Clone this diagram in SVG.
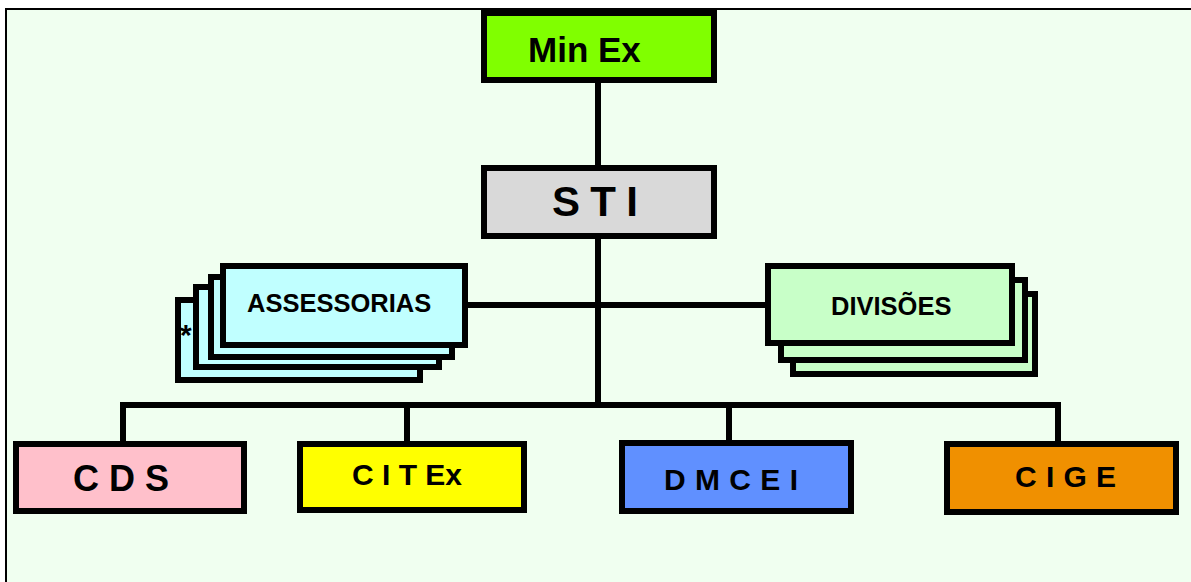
<svg xmlns="http://www.w3.org/2000/svg" width="1191" height="582" viewBox="0 0 1191 582">
<style>
.box{stroke:#000;stroke-width:6}
.t{font-family:"Liberation Sans",Arial,sans-serif;font-weight:bold;fill:#000}
.c{stroke:#000;stroke-width:6;fill:none}
</style>
<rect x="0" y="0" width="1191" height="582" fill="#ffffff"/>
<rect x="6" y="9" width="1200" height="600" fill="#F0FFF0" stroke="#000" stroke-width="2"/>
<g id="connectors">
<line class="c" x1="598" y1="83" x2="598" y2="165"/>
<line class="c" x1="598" y1="239" x2="598" y2="405"/>
<line class="c" x1="468" y1="305" x2="765" y2="305"/>
<polyline class="c" points="123,441 123,405 1058,405 1058,441"/>
<line class="c" x1="407" y1="405" x2="407" y2="441"/>
<line class="c" x1="729" y1="405" x2="729" y2="440"/>
</g>
<g id="minex">
<rect class="box" x="484" y="13" width="230" height="67" fill="#80FF00"/>
<text class="t" x="528" y="62" font-size="35">Min Ex</text>
</g>
<g id="sti">
<rect class="box" x="484" y="168" width="230" height="68" fill="#D9D9D9"/>
<text class="t" x="552" y="216" font-size="42" textLength="86">S T I</text>
</g>
<g id="assessorias">
<rect class="box" x="178" y="300" width="242" height="80" fill="#C0FFFF"/>
<rect class="box" x="196" y="287" width="243" height="80" fill="#C0FFFF"/>
<rect class="box" x="211" y="277" width="241" height="80" fill="#C0FFFF"/>
<rect class="box" x="223" y="266" width="242" height="79" fill="#C0FFFF"/>
<text class="t" x="180" y="345" font-size="30">*</text>
<text class="t" x="247" y="312" font-size="25.5">ASSESSORIAS</text>
</g>
<g id="divisoes">
<rect class="box" x="793" y="294" width="242" height="80" fill="#C8FFC8"/>
<rect class="box" x="781" y="280" width="244" height="80" fill="#C8FFC8"/>
<rect class="box" x="768" y="266" width="244" height="77" fill="#C8FFC8"/>
<text class="t" x="831" y="315" font-size="25.5">DIVISÕES</text>
</g>
<g id="cds">
<rect class="box" x="16" y="444" width="228" height="67" fill="#FFC0CB"/>
<text class="t" x="73" y="491" font-size="36" textLength="96">C D S</text>
</g>
<g id="citex">
<rect class="box" x="300" y="444" width="224" height="66" fill="#FFFF00"/>
<text class="t" x="352" y="485" font-size="30" textLength="110">C I T Ex</text>
</g>
<g id="dmcei">
<rect class="box" x="622" y="443" width="229" height="68" fill="#6090FF"/>
<text class="t" x="664" y="490" font-size="30" textLength="134">D M C E I</text>
</g>
<g id="cige">
<rect class="box" x="947" y="444" width="229" height="68" fill="#F09000"/>
<text class="t" x="1015" y="487" font-size="30" textLength="101">C I G E</text>
</g>
</svg>
